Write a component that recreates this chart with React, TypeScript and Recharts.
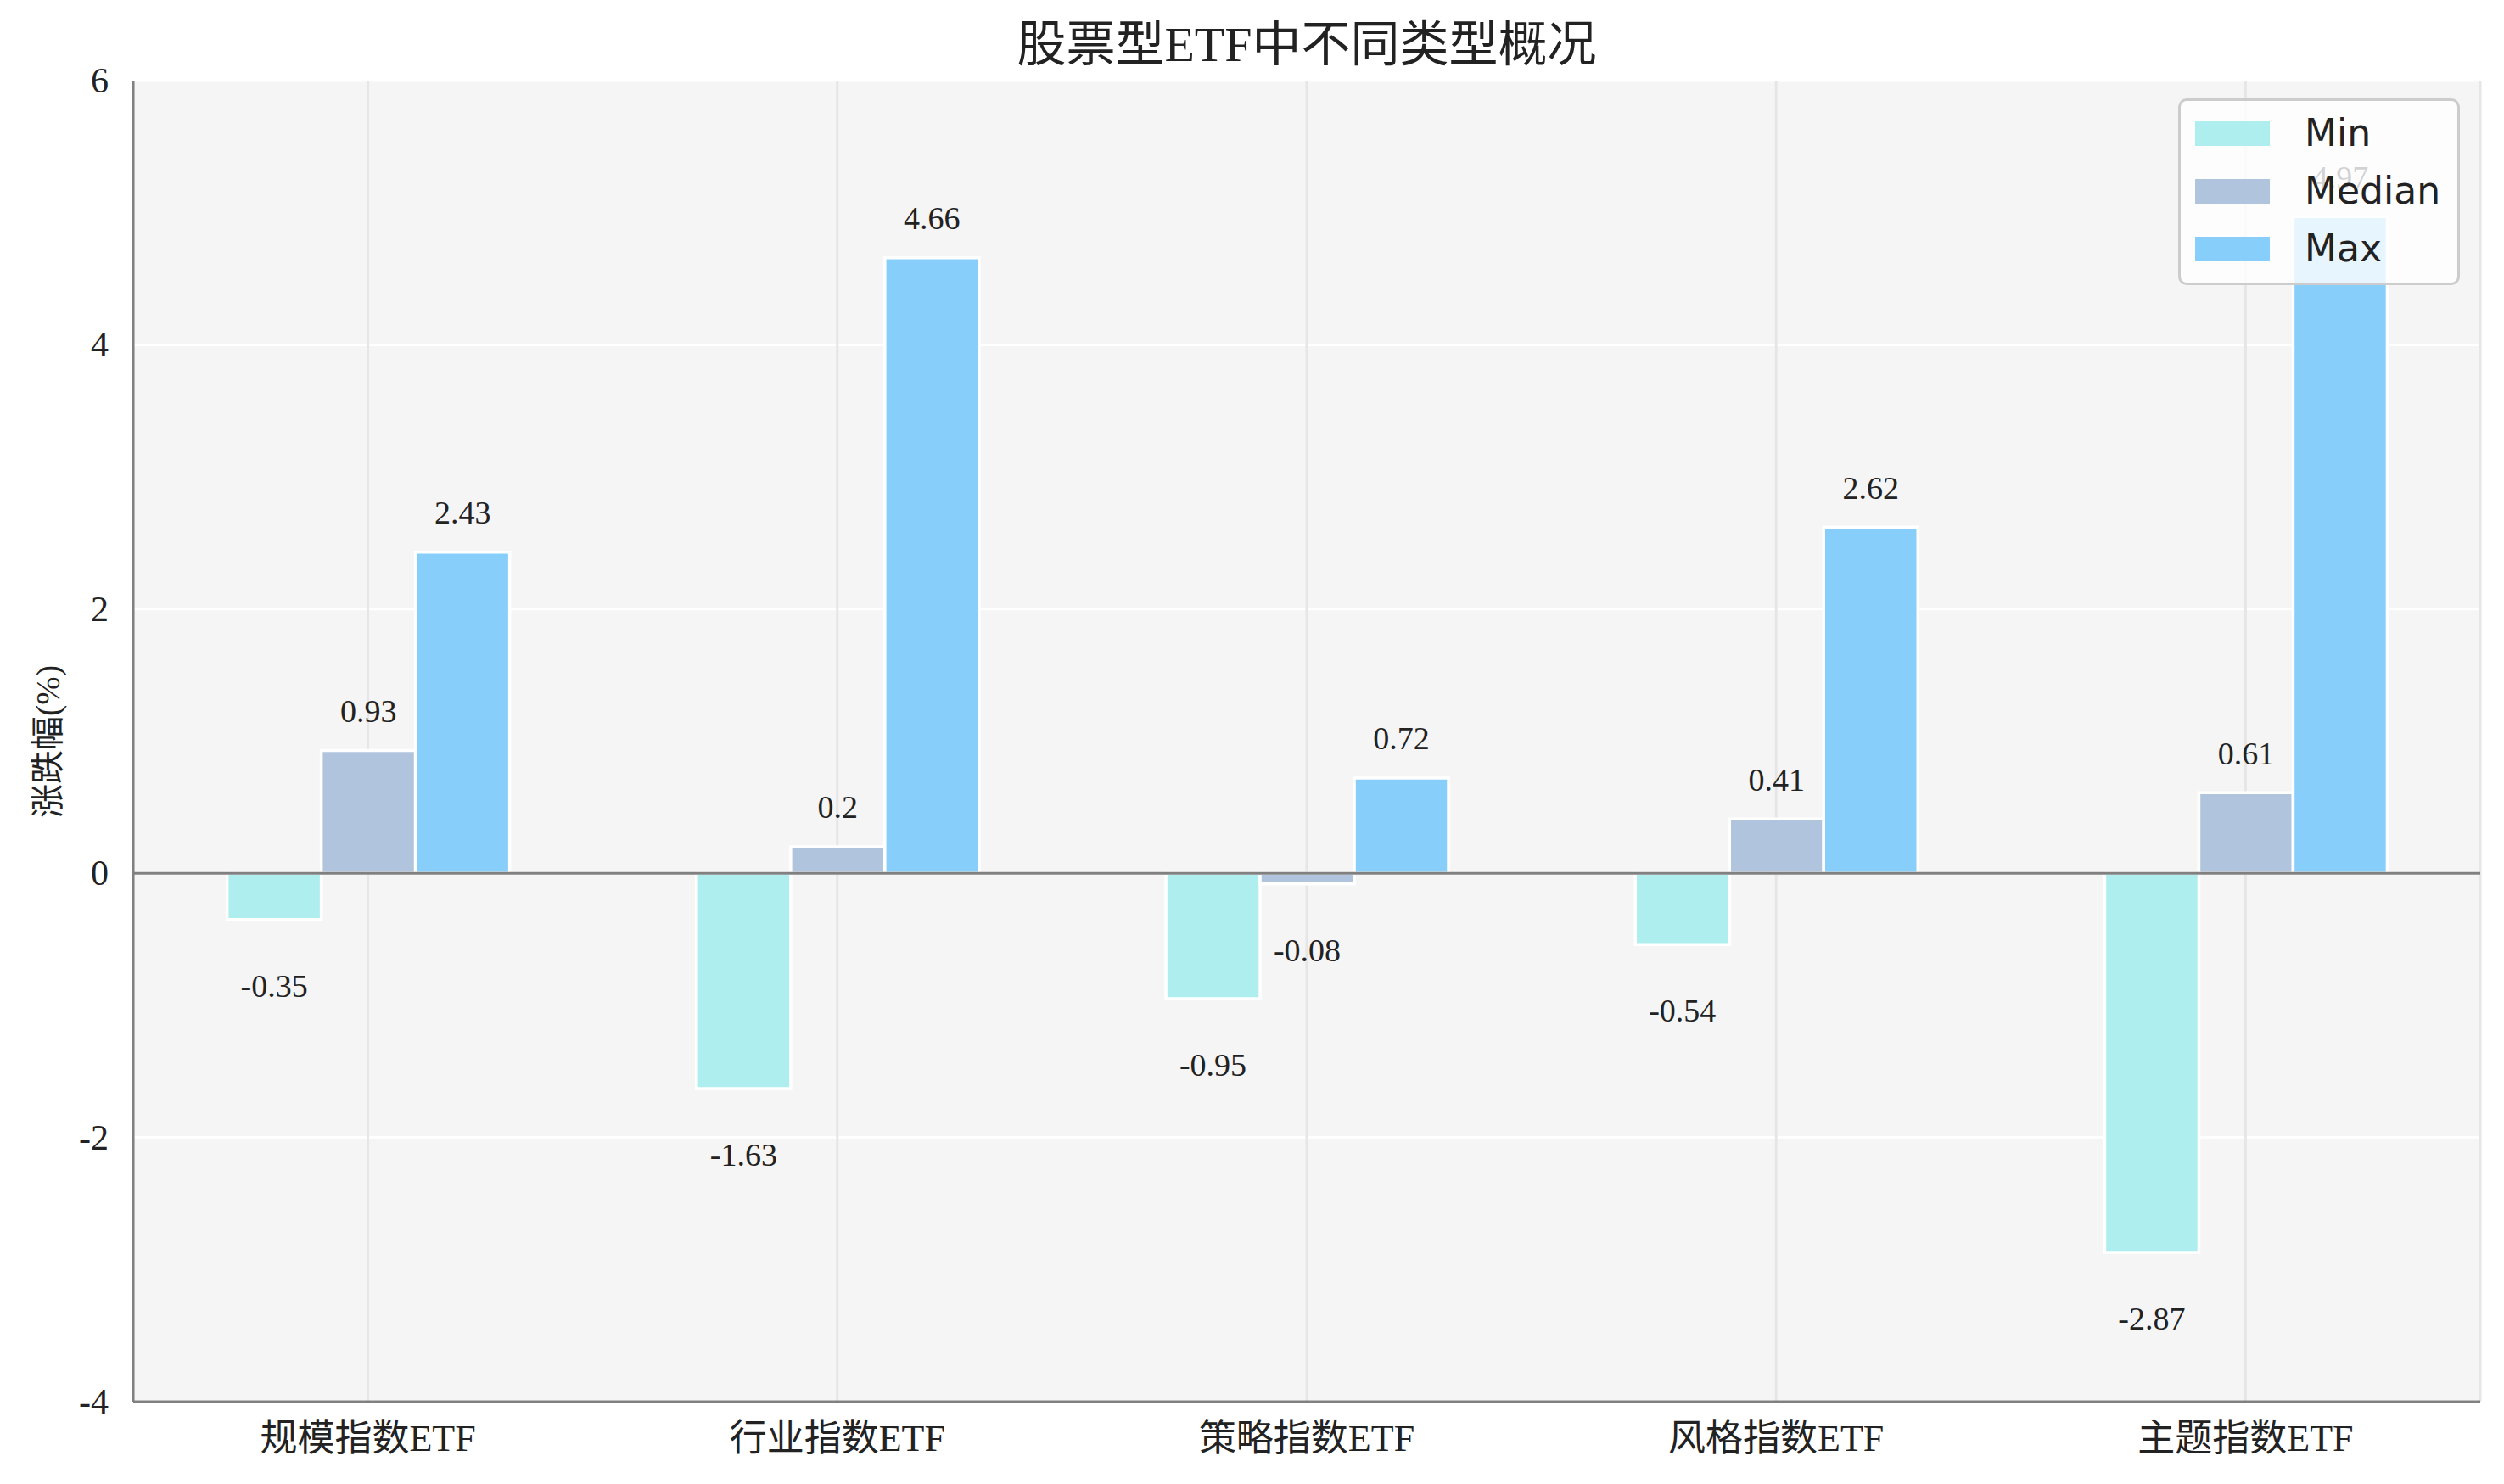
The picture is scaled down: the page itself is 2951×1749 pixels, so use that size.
import React from 'react';
import {
  BarChart,
  Bar,
  XAxis,
  YAxis,
  CartesianGrid,
  ReferenceLine,
  Legend,
  LabelList,
} from 'recharts';

const categories = ['规模指数ETF', '行业指数ETF', '策略指数ETF', '风格指数ETF', '主题指数ETF'];
const minValues = [-0.35, -1.63, -0.95, -0.54, -2.87];
const medianValues = [0.93, 0.2, -0.08, 0.41, 0.61];
const maxValues = [2.43, 4.66, 0.72, 2.62, 4.97];
const yTicks = [-4, -2, 0, 2, 4, 6];

const series = [
  { key: 'Min', values: minValues, color: '#afeeee' },
  { key: 'Median', values: medianValues, color: '#b0c4de' },
  { key: 'Max', values: maxValues, color: '#87cefa' },
];

const data = categories.map((name, i) => ({
  name,
  Min: minValues[i],
  Median: medianValues[i],
  Max: maxValues[i],
}));

const W = 2951;
const H = 1749;
const margin = { top: 95, right: 28, bottom: 0, left: 0 };
const X_AXIS_H = 97;
const Y_AXIS_W = 157;
const plotH = H - margin.top - margin.bottom - X_AXIS_H;
const unitPx = plotH / (yTicks[yTicks.length - 1] - yTicks[0]);

const serif = "'Liberation Serif', 'Noto Sans CJK SC', serif";
const textColor = '#222222';

const XTick = (props: any) => (
  <text
    x={props.x}
    y={props.y + 43}
    textAnchor="middle"
    dominantBaseline="central"
    fontSize={44}
    fontFamily={serif}
    fill={textColor}
  >
    {props.payload.value}
  </text>
);

const YTick = (props: any) => (
  <text
    x={props.x - 29}
    y={props.y}
    textAnchor="end"
    dominantBaseline="central"
    fontSize={42}
    fontFamily={serif}
    fill={textColor}
  >
    {props.payload.value}
  </text>
);

// positive values sit above the bar, negative ones below it
const ValueLabel = (props: any) => {
  const { x, y, width, height, value } = props;
  const top = Math.min(y, y + height);
  const bottom = Math.max(y, y + height);
  const cy = value >= 0 ? top - 0.3 * unitPx : bottom + 0.5 * unitPx;
  return (
    <text
      x={x + width / 2}
      y={cy}
      textAnchor="middle"
      dominantBaseline="central"
      fontSize={38}
      fontFamily={serif}
      fill={textColor}
    >
      {String(value)}
    </text>
  );
};

const LegendBox = () => (
  <div
    style={{
      width: 332,
      height: 220,
      boxSizing: 'border-box',
      border: '3px solid #cccccc',
      borderRadius: 10,
      background: 'rgba(255,255,255,0.8)',
      position: 'relative',
      fontFamily: "'DejaVu Sans', sans-serif",
      fontSize: 44,
      color: textColor,
    }}
  >
    {series.map((s, i) => (
      <div
        key={s.key}
        style={{
          position: 'absolute',
          left: 17,
          top: 38 + i * 68 - 30,
          height: 60,
          display: 'flex',
          alignItems: 'center',
        }}
      >
        <div style={{ width: 88, height: 29, background: s.color }} />
        <span style={{ marginLeft: 41, lineHeight: '60px' }}>{s.key}</span>
      </div>
    ))}
  </div>
);

export default function App() {
  return (
    <div style={{ position: 'relative', width: W, height: H, background: '#ffffff' }}>
      <style>{'body{margin:0}'}</style>
      <div
        style={{
          position: 'absolute',
          left: Y_AXIS_W,
          width: W - Y_AXIS_W - margin.right,
          top: 53 - 40,
          height: 80,
          lineHeight: '80px',
          textAlign: 'center',
          fontSize: 58,
          fontFamily: serif,
          color: textColor,
        }}
      >
        股票型ETF中不同类型概况
      </div>
      <div
        style={{
          position: 'absolute',
          left: 57 - 300,
          top: margin.top + plotH / 2 - 30,
          width: 600,
          height: 60,
          lineHeight: '60px',
          textAlign: 'center',
          transform: 'rotate(-90deg)',
          fontSize: 40,
          fontFamily: serif,
          color: textColor,
        }}
      >
        涨跌幅(%)
      </div>
      <BarChart
        width={W}
        height={H}
        data={data}
        margin={margin}
        barCategoryGap="20%"
        barGap={0}
        style={{ position: 'absolute', left: 0, top: 0 }}
      >
        <CartesianGrid fill="#f5f5f5" vertical={false} stroke="#ffffff" strokeWidth={3} />
        <CartesianGrid horizontal={false} stroke="#e6e6e6" strokeWidth={3} />
        <XAxis
          dataKey="name"
          height={X_AXIS_H}
          tickLine={false}
          tickSize={0}
          tickMargin={0}
          axisLine={{ stroke: '#808080', strokeWidth: 3 }}
          tick={<XTick />}
          interval={0}
        />
        <YAxis
          width={Y_AXIS_W}
          domain={[-4, 6]}
          ticks={yTicks}
          tickLine={false}
          tickSize={0}
          tickMargin={0}
          axisLine={{ stroke: '#808080', strokeWidth: 3 }}
          tick={<YTick />}
          interval={0}
        />
        {series.map((s) => (
          <Bar
            key={s.key}
            dataKey={s.key}
            fill={s.color}
            stroke="#ffffff"
            strokeWidth={3.5}
            isAnimationActive={false}
          >
            <LabelList dataKey={s.key} content={<ValueLabel />} />
          </Bar>
        ))}
        <ReferenceLine y={0} stroke="#808080" strokeWidth={3} />
        <Legend
          layout="vertical"
          align="center"
          verticalAlign="middle"
          content={<LegendBox />}
          wrapperStyle={{ position: 'absolute', left: 2567, top: 116, width: 332, height: 220 }}
        />
      </BarChart>
    </div>
  );
}
